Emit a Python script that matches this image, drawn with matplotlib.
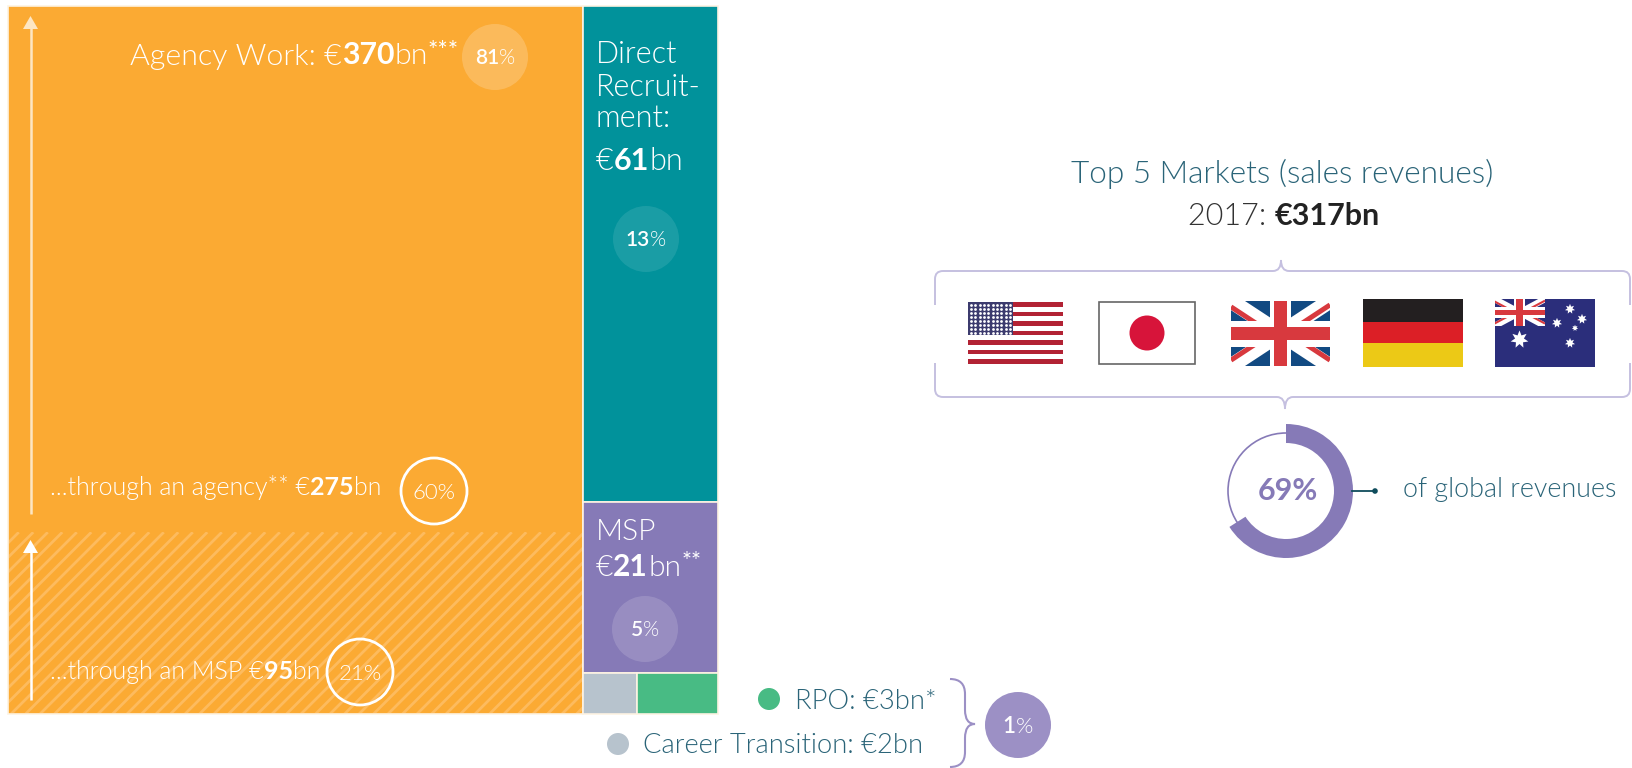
import matplotlib
matplotlib.use('Agg')
import matplotlib.pyplot as plt
from matplotlib.patches import Rectangle, Circle, Wedge, PathPatch, Polygon
from matplotlib.path import Path
from matplotlib.collections import LineCollection
import numpy as np

plt.rcParams['font.family'] = ['Lato', 'DejaVu Sans']

# data (EUR bn)
agency = 370
through_agency = 275
through_msp = 95
direct = 61
msp = 21
rpo = 3
career = 2
top5_total = 317
share_top5 = 69
# the ring in the picture stops short of its label
ring_sweep_pct = 66

stripes_us = 13

ORANGE = '#FBAA33'
TEAL = '#01929B'
PURPLE = '#867AB7'
GREY = '#B7C3CD'
GREEN = '#48BB84'
TXT = '#2A6478'
BRACE = '#C5C0E0'
EDGE = '#FDF3E3'
LIGHT = 300  # 'light' picks Lato Hairline

fig = plt.figure(figsize=(16.32, 7.68), dpi=100)
ax = fig.add_axes([0, 0, 1, 1])
ax.set_xlim(0, 1632)
ax.set_ylim(768, 0)
ax.axis('off')
renderer = fig.canvas.get_renderer()


def width(s, size, w):
    # measured with a bar on the end so trailing spaces count
    a = ax.text(0, 0, s + '|', fontsize=size, fontweight=w)
    b = ax.text(0, 0, '|', fontsize=size, fontweight=w)
    res = a.get_window_extent(renderer).width - b.get_window_extent(renderer).width
    a.remove()
    b.remove()
    return res


def runs(x, y, parts, size, color='white'):
    # parts: (text, weight) or (text, weight, size factor, raise)
    for p in parts:
        s, w = p[0], p[1]
        f = p[2] if len(p) > 2 else 1
        up = p[3] if len(p) > 3 else 0
        ax.text(x, y - up, s, fontsize=size * f, fontweight=w, color=color,
                va='baseline', ha='left', zorder=6)
        x += width(s, size * f, w)
    return x


def badge(x, y, num, fc=None, alpha=1.0, outline=False, size=15, r=33):
    if outline:
        ax.add_patch(Circle((x, y), r, fc='none', ec='white', lw=2))
        parts = [('%d%%' % num, LIGHT)]
    else:
        ax.add_patch(Circle((x, y), r, fc=fc, ec='none', alpha=alpha))
        parts = [(str(num), 600), ('%', LIGHT)]
    w = sum(width(p[0], size, p[1]) for p in parts)
    runs(x - w / 2, y + size * 0.5, parts, size)


# treemap, areas from the values
x0, y0, x1, y1 = 8.0, 6.0, 718.0, 714.0
total = agency + direct + msp + rpo + career
right = direct + msp + rpo + career
xs = x0 + (x1 - x0) * agency / total
ys_direct = y0 + (y1 - y0) * direct / right
ys_msp = ys_direct + (y1 - y0) * msp / right
xs_small = xs + (x1 - xs) * career / (rpo + career)
ys_hatch = y1 - (y1 - y0) * through_msp / agency


def box(xa, ya, xb, yb, c):
    ax.add_patch(Rectangle((xa, ya), xb - xa, yb - ya, fc=c, ec=EDGE, lw=1.2, zorder=0.5))


box(x0, y0, xs, y1, ORANGE)
box(xs, y0, x1, ys_direct, TEAL)
box(xs, ys_direct, x1, ys_msp, PURPLE)
box(xs, ys_msp, xs_small, y1, GREY)
box(xs_small, ys_msp, x1, y1, GREEN)

# hatched MSP part of agency work
clip = Rectangle((x0 + 1, ys_hatch), xs - x0 - 2, y1 - ys_hatch - 1, transform=ax.transData)
segs = [[(c, y1), (c + (y1 - ys_hatch), ys_hatch)] for c in np.arange(x0 - 200, xs, 14.5)]
lc = LineCollection(segs, colors='#FDBB5E', linewidths=2.0, zorder=0.6)
ax.add_collection(lc)
lc.set_clip_path(clip)

# arrows
for ya, yb, col in [(514, 16, '#FDE6C3'), (700, 540, 'white')]:
    ax.plot([30.5, 30.5], [ya, yb + 12], color=col, lw=1.8, solid_capstyle='butt')
    ax.add_patch(Polygon([(30.5, yb), (23, yb + 13), (38, yb + 13)], fc=col, ec='none'))

# labels in the treemap
runs(130, 64.5, [('Agency Work: €', LIGHT), (str(agency), 'bold'), ('bn', LIGHT), ('***', 400, .8, 8)], 21.8)
badge(495, 57, 81, 'white', .2)
runs(50, 495, [('...through an agency** €', LIGHT), (str(through_agency), 'bold'), ('bn', LIGHT)], 18)
badge(434, 491, 60, outline=True, size=16)
runs(50, 679, [('...through an MSP €', LIGHT), (str(through_msp), 'bold'), ('bn', LIGHT)], 18)
badge(360, 672, 21, outline=True, size=16)

runs(596, 63, [('Direct', LIGHT)], 22)
runs(596, 96, [('Recruit-', LIGHT)], 22)
runs(596, 127, [('ment:', LIGHT)], 22)
runs(596, 170, [('€', LIGHT), (str(direct), 'bold'), ('bn', LIGHT)], 22)
badge(646, 239, 13, 'white', .1)

runs(596, 540, [('MSP', LIGHT)], 21.5)
runs(596, 576, [('€', LIGHT), (str(msp), 'bold'), ('bn', LIGHT), ('**', 400, .8, 8)], 21.5)
badge(645, 629, 5, 'white', .15)

# small segments
ax.add_patch(Circle((769, 699), 11, fc=GREEN, ec='none'))
runs(795, 709, [('RPO: €%dbn*' % rpo, LIGHT)], 19.7, TXT)
ax.add_patch(Circle((618, 744), 11, fc=GREY, ec='none'))
runs(643, 753, [('Career Transition: €%dbn' % career, LIGHT)], 19.7, TXT)

M, L, C = Path.MOVETO, Path.LINETO, Path.CURVE3
verts = [(950, 679), (965, 679), (965, 694), (965, 710), (965, 724), (975, 724),
         (965, 724), (965, 738), (965, 752), (965, 767), (950, 767)]
codes = [M, C, C, L, C, C, C, C, L, C, C]
ax.add_patch(PathPatch(Path(verts, codes), fc='none', ec='#9C90C5', lw=1.5))
badge(1018, 725, 1, '#9C90C5', size=16)

# top 5 markets
ax.text(1282, 183, 'Top 5 Markets (sales revenues)', fontsize=22.7, fontweight=LIGHT, color=TXT,
        ha='center', va='baseline')
xe = runs(1188, 225, [('2017: ', LIGHT)], 22, '#333333')
runs(xe, 225, [('€%dbn' % top5_total, 'bold')], 22, '#222222')


def brace(points):
    vs = [p[:2] for p in points]
    cs = [p[2] for p in points]
    ax.add_patch(PathPatch(Path(vs, cs), fc='none', ec=BRACE, lw=1.4))


L_, R_, T_, B_ = 935, 1630, 271, 397
brace([(L_, 305, M), (L_, T_ + 8, L), (L_, T_, C), (L_ + 8, T_, C), (1273, T_, L), (1281, T_, C), (1281, 260, C),
       (1281, T_, C), (1289, T_, C), (R_ - 8, T_, L), (R_, T_, C), (R_, T_ + 8, C), (R_, 305, L)])
brace([(L_, 363, M), (L_, B_ - 8, L), (L_, B_, C), (L_ + 8, B_, C), (1277, B_, L), (1285, B_, C), (1285, 409, C),
       (1285, B_, C), (1293, B_, C), (R_ - 8, B_, L), (R_, B_, C), (R_, B_ - 8, C), (R_, 363, L)])


# flags
def r(xa, ya, xb, yb, c, z=3):
    ax.add_patch(Rectangle((xa, ya), xb - xa, yb - ya, fc=c, ec='none', zorder=z))


def union(xa, ya, xb, yb, z=3):
    w, h = xb - xa, yb - ya
    cx, cy = (xa + xb) / 2, (ya + yb) / 2
    clip_r = Rectangle((xa, ya), w, h, transform=ax.transData)
    for a, b in [((xa, ya), (xb, yb)), ((xa, yb), (xb, ya))]:
        ln, = ax.plot([a[0], b[0]], [a[1], b[1]], color='white', lw=h * .17, zorder=z, solid_capstyle='butt')
        ln.set_clip_path(clip_r)
    # red arms sit off the white diagonal, pinwheel style
    for cnr, off in [((xa, ya), .09), ((xb, ya), .06), ((xa, yb), -.09), ((xb, yb), -.09)]:
        ln, = ax.plot([cnr[0], cx], [cnr[1] + off * h, cy + off * h], color='#D8393E', lw=h * .055, zorder=z,
                      solid_capstyle='butt')
        ln.set_clip_path(clip_r)
    r(cx - w * .11, ya, cx + w * .11, yb, 'white', z)
    r(xa, cy - h * .2, xb, cy + h * .2, 'white', z)
    r(cx - w * .065, ya, cx + w * .065, yb, '#D8393E', z)
    r(xa, cy - h * .1, xb, cy + h * .1, '#D8393E', z)


# us
fx0, fy0, fx1, fy1 = 968, 302, 1063, 364
sh = (fy1 - fy0) / stripes_us
for i in range(stripes_us):
    r(fx0, fy0 + i * sh, fx1, fy0 + (i + 1) * sh, '#B22234' if i % 2 == 0 else 'white')
r(fx0, fy0, fx0 + 45, fy0 + 7 * sh, '#3C3B6E', 4)
sx, sy = np.meshgrid(np.linspace(fx0 + 3, fx0 + 42, 10), np.linspace(fy0 + 2.5, fy0 + 7 * sh - 2.5, 8))
ax.scatter(sx, sy, s=4, c='white', linewidths=0, zorder=5)

# japan
ax.add_patch(Rectangle((1099, 302), 96, 62, fc='white', ec='#666666', lw=1.2, zorder=3))
ax.add_patch(Circle((1147, 333), 17.5, fc='#D7143A', ec='none', zorder=4))

# uk
r(1231, 301, 1330, 366, '#124A82')
union(1231, 301, 1330, 366)

# germany
r(1363, 299, 1463, 322, '#231F20')
r(1363, 322, 1463, 343, '#DC1F26')
r(1363, 343, 1463, 367, '#ECC916')

# australia
r(1494.5, 299, 1595, 367, '#2B2E7B')
union(1494.5, 299, 1545, 326, 4)
ax.scatter([1519], [339], s=170, c='white', marker=(7, 1), linewidths=0, zorder=5)
ax.scatter([1570, 1557, 1582, 1575, 1570], [309, 323, 319, 328, 343], s=[55, 55, 55, 22, 55],
           c='white', marker=(7, 1), linewidths=0, zorder=5)

# donut
cx, cy = 1286, 491
ax.add_patch(Circle((cx, cy), 58, fc='none', ec=PURPLE, lw=1.2))
# y axis is inverted here, so angles run clockwise from the right
ax.add_patch(Wedge((cx, cy), 67, -90, -90 + 3.6 * ring_sweep_pct, width=19, fc=PURPLE, ec='none'))
ax.text(1288, 500, '%d%%' % share_top5, fontsize=22, fontweight='bold', color=PURPLE, ha='center', va='baseline')
ax.plot([1352, 1375], [491, 491], color='#0F4C5C', lw=1.3)
ax.add_patch(Circle((1375, 491), 2.8, fc='#0F4C5C', ec='none'))
ax.text(1403, 497, 'of global revenues', fontsize=19.4, fontweight=LIGHT, color=TXT, va='baseline')

fig.savefig('out.png', dpi=100)
